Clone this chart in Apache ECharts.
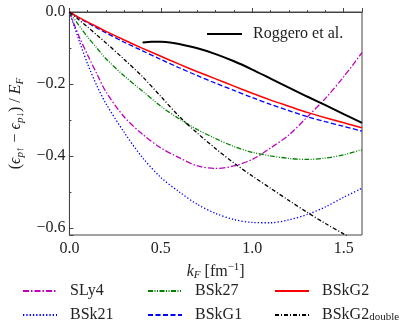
<!DOCTYPE html>
<html>
<head>
<meta charset="utf-8">
<script src="https://cdn.jsdelivr.net/npm/echarts@6/dist/echarts.min.js"></script>
<style>
  html, body { margin: 0; padding: 0; background: #fff; }
  #chart { width: 415px; height: 334px; }
</style>
</head>
<body>
<div id="chart"></div>
<script>
// k_F grid [fm^-1]
const kF = [0, 0.05, 0.1, 0.15, 0.2, 0.3, 0.4, 0.5, 0.6, 0.7, 0.8, 0.9, 1.0, 1.1, 1.2, 1.3, 1.4, 1.5, 1.6];

const sly4 = [0, -0.065, -0.12, -0.172, -0.222, -0.292, -0.34, -0.378, -0.405, -0.428, -0.435, -0.428, -0.41, -0.378, -0.342, -0.292, -0.24, -0.18, -0.113];
const bsk21 = [0, -0.075, -0.145, -0.205, -0.255, -0.335, -0.405, -0.46, -0.5, -0.535, -0.56, -0.577, -0.585, -0.586, -0.578, -0.563, -0.542, -0.515, -0.49];
const bsk27 = [0, -0.036, -0.07, -0.1, -0.13, -0.178, -0.22, -0.262, -0.297, -0.327, -0.352, -0.374, -0.39, -0.4, -0.407, -0.41, -0.406, -0.397, -0.383];
const bskg1 = [0, -0.016, -0.03, -0.044, -0.058, -0.084, -0.108, -0.132, -0.155, -0.177, -0.198, -0.218, -0.238, -0.257, -0.274, -0.291, -0.305, -0.318, -0.331];
const bskg2 = [0, -0.015, -0.028, -0.041, -0.054, -0.078, -0.101, -0.123, -0.145, -0.166, -0.186, -0.206, -0.226, -0.245, -0.262, -0.279, -0.294, -0.308, -0.322];
const bskg2double = [0, -0.021, -0.042, -0.064, -0.086, -0.132, -0.18, -0.235, -0.29, -0.337, -0.38, -0.42, -0.456, -0.49, -0.524, -0.557, -0.588, -0.617, -0.645];

// Roggero et al. only starts at k_F = 0.4
const rogK = [0.4, 0.45, 0.5, 0.55, 0.6, 0.7, 0.8, 0.9, 1.0, 1.1, 1.2, 1.3, 1.4, 1.5, 1.6];
const roggero = [-0.085, -0.0825, -0.083, -0.085, -0.089, -0.101, -0.117, -0.137, -0.16, -0.185, -0.21, -0.235, -0.259, -0.284, -0.308];

const yTicks = [0, -0.2, -0.4, -0.6];

const font = "Liberation Serif";

function pairs(xs, ys) {
  return xs.map((x, i) => [x, ys[i]]);
}

function line(name, xs, ys, color, type, width) {
  return {
    name: name,
    type: "line",
    data: pairs(xs, ys),
    showSymbol: false,
    symbol: "none",
    smooth: 0.3,
    animation: false,
    lineStyle: { color: color, type: type, width: width },
    itemStyle: { color: color },
  };
}

const legendText = {
  fontFamily: font,
  fontSize: 16,
  color: "#222",
  padding: [0, 0, 0, 8],
  rich: {
    s: { fontFamily: font, fontSize: 11, padding: [4, 0, 0, 0] },
  },
};

function colLegend(left, names) {
  return {
    orient: "vertical",
    left: left,
    top: 283,
    padding: 0,
    itemWidth: 34,
    itemHeight: 14,
    itemGap: 8,
    data: names,
    itemStyle: { opacity: 0 }, // hide the marker, keep only the line
    textStyle: legendText,
    formatter: (n) => (n === "BSkG2double" ? "BSkG2{s|double}" : n),
  };
}

const chart = echarts.init(document.getElementById("chart"));

chart.setOption({
  animation: false,
  grid: {
    left: 62,
    right: 53,
    top: 12,
    bottom: 99,
    show: true,
    borderColor: "#444",
    borderWidth: 1,
  },
  legend: [
    colLegend(22, ["SLy4", "BSk21"]),
    colLegend(147, ["BSk27", "BSkG1"]),
    colLegend(274, ["BSkG2", "BSkG2double"]),
    {
      left: 206,
      top: 26,
      padding: 0,
      itemWidth: 35,
      itemHeight: 14,
      data: ["Roggero et al."],
      itemStyle: { opacity: 0 },
      textStyle: { fontFamily: font, fontSize: 16, color: "#222", padding: [0, 0, 0, 6] },
    },
  ],
  xAxis: {
    type: "value",
    min: 0,
    max: 1.6,
    interval: 0.5,
    name: "{i|k}{s|F} [fm{u|−1}]",
    nameLocation: "middle",
    nameGap: 21,
    nameTextStyle: {
      fontFamily: font,
      fontSize: 16,
      color: "#222",
      rich: {
        i: { fontFamily: font, fontStyle: "italic", fontSize: 16 },
        s: { fontFamily: font, fontStyle: "italic", fontSize: 11, padding: [8, 0, 0, 0] },
        u: { fontFamily: font, fontSize: 11, padding: [0, 0, 8, 0] },
      },
    },
    axisLine: { lineStyle: { color: "#444", width: 1 } },
    axisTick: { inside: true, length: 4, lineStyle: { color: "#444" } },
    minorTick: { show: true, splitNumber: 5, length: 2, lineStyle: { color: "#444" } },
    axisLabel: {
      fontFamily: font,
      fontSize: 16,
      color: "#222",
      margin: 6,
      showMaxLabel: false,
      formatter: (v) => v.toFixed(1),
    },
    splitLine: { show: false },
  },
  yAxis: {
    type: "value",
    min: -0.62,
    max: 0,
    splitNumber: 3,
    name: "({i|ϵ}{s|p↑} − {i|ϵ}{s|p↓}) / {i|E}{s|F}",
    nameLocation: "middle",
    nameGap: 40,
    nameRotate: 90,
    nameTextStyle: {
      fontFamily: font,
      fontSize: 16,
      color: "#222",
      rich: {
        i: { fontFamily: font, fontStyle: "italic", fontSize: 16 },
        s: { fontFamily: font, fontStyle: "italic", fontSize: 11, padding: [8, 0, 0, 0] },
      },
    },
    axisLine: { show: true, lineStyle: { color: "#444", width: 1 } },
    axisTick: { inside: true, length: 4, lineStyle: { color: "#444" } },
    minorTick: { show: true, splitNumber: 2, length: 2, lineStyle: { color: "#444" } },
    axisLabel: {
      fontFamily: font,
      fontSize: 16,
      color: "#222",
      margin: 4,
      showMinLabel: false,
      formatter: (v) => {
        const t = yTicks.find((y) => Math.abs(y - v) < 1e-6);
        if (t === undefined) return "";
        return t === 0 ? "0.0" : "−" + Math.abs(t).toFixed(1);
      },
    },
    splitLine: { show: false },
  },
  series: [
    line("SLy4", kF, sly4, "#bf00bf", [6, 2, 1.5, 2], 1.3),
    line("BSk21", kF, bsk21, "#0000ff", [1.3, 2], 1.3),
    line("BSk27", kF, bsk27, "#008000", [5, 1.5, 1, 1.5, 1, 1.5], 1.3),
    line("BSkG1", kF, bskg1, "#0000ff", [5, 2.5], 1.3),
    line("BSkG2", kF, bskg2, "#ff0000", "solid", 1.5),
    line("BSkG2double", kF, bskg2double, "#000000", [4, 2, 1, 2], 1.3),
    line("Roggero et al.", rogK, roggero, "#000000", "solid", 2),
  ],
});
</script>
</body>
</html>
